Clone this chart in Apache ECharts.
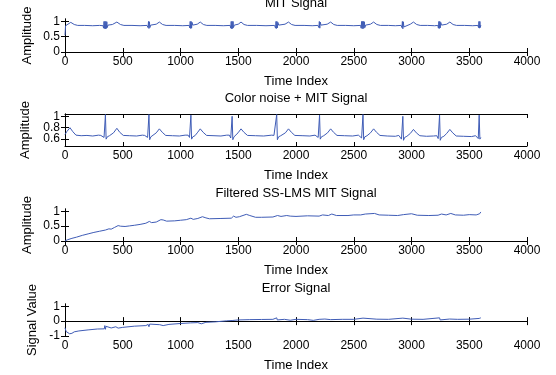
<!DOCTYPE html>
<html><head><meta charset="utf-8">
<script src="https://cdn.jsdelivr.net/npm/echarts@6/dist/echarts.min.js"></script>
<style>html,body{margin:0;padding:0;background:#fff}#c{width:556px;height:375px}</style>
</head><body><div id="c"></div>
<script>
const titles = ["MIT Signal", "Color noise + MIT Signal", "Filtered SS-LMS MIT Signal", "Error Signal"];
const yNames = ["Amplitude", "Amplitude", "Amplitude", "Signal Value"];
const xName = "Time Index";
const xTicks = [0, 500, 1000, 1500, 2000, 2500, 3000, 3500, 4000];
const yTicks1 = [0, 0.5, 1];
const yTicks2 = [0.6, 0.8, 1];
const yTicks3 = [0, 0.5, 1];
const yTicks4 = [-1, 0, 1];

const mitSignal = [[0,0.55],[5,0.86],[20,0.9],[50,0.97],[80,0.9],[110,0.87],[170,0.87],[240,0.86],[300,0.87],[330,0.86],
[334,0.78],[338,1.0],[342,0.77],[346,1.0],[350,0.76],[354,1.0],[358,0.77],[362,0.99],[366,0.8],[372,0.88],
[410,0.9],[449,0.98],[480,0.9],[510,0.87],[580,0.87],[650,0.86],[710,0.87],
[719,0.8],[723,1.0],[727,0.77],[731,0.99],[735,0.8],[742,0.88],
[790,0.91],[817,0.98],[845,0.9],[875,0.87],[950,0.87],[1020,0.86],[1075,0.87],
[1080,0.79],[1084,1.0],[1088,0.77],[1092,1.0],[1096,0.78],[1100,0.97],[1106,0.88],
[1145,0.91],[1171,0.98],[1198,0.9],[1228,0.87],[1300,0.87],[1370,0.86],[1430,0.87],
[1435,0.78],[1439,1.0],[1443,0.76],[1447,1.0],[1451,0.77],[1455,1.0],[1459,0.8],[1466,0.88],
[1500,0.91],[1524,0.98],[1550,0.9],[1580,0.87],[1660,0.87],[1740,0.86],[1815,0.87],
[1823,0.78],[1827,1.0],[1831,0.77],[1835,1.0],[1839,0.79],[1843,0.97],[1850,0.88],
[1905,0.91],[1935,0.98],[1962,0.9],[1992,0.87],[2070,0.87],[2140,0.86],[2190,0.87],
[2198,0.8],[2202,1.0],[2206,0.78],[2210,0.98],[2216,0.88],
[2270,0.91],[2300,0.98],[2327,0.9],[2357,0.87],[2430,0.87],[2500,0.86],[2560,0.87],
[2564,0.78],[2568,1.0],[2572,0.77],[2576,1.0],[2580,0.76],[2584,1.0],[2588,0.78],[2592,0.99],[2596,0.8],[2603,0.88],
[2645,0.91],[2672,0.98],[2700,0.9],[2730,0.87],[2800,0.87],[2860,0.86],[2910,0.87],
[2917,0.8],[2921,1.0],[2925,0.76],[2929,0.99],[2934,0.82],[2940,0.88],
[2990,0.91],[3017,0.98],[3045,0.9],[3075,0.87],[3140,0.87],[3200,0.86],[3228,0.87],
[3233,0.78],[3237,1.0],[3241,0.77],[3245,1.0],[3249,0.79],[3253,0.97],[3260,0.88],
[3305,0.91],[3332,0.98],[3360,0.9],[3390,0.87],[3460,0.87],[3530,0.86],[3575,0.87],
[3580,0.8],[3584,1.0],[3588,0.78],[3592,1.0],[3596,0.8],[3600,0.88]];

const noisySignal = [[0,0.68],[15,0.73],[43,0.8],[68,0.73],[95,0.67],[140,0.66],[190,0.665],[240,0.655],[290,0.67],[310,0.665],[325,0.67],[338,0.63],[350,1.03],[356,0.6],[366,0.64],[385,0.66],[420,0.71],[449,0.79],[474,0.72],[505,0.665],[560,0.66],[620,0.655],[670,0.67],[690,0.665],[703,0.67],[715,0.63],[727,1.03],[733,0.59],[743,0.64],[760,0.66],[790,0.71],[817,0.78],[842,0.72],[872,0.665],[930,0.66],[990,0.655],[1040,0.67],[1066,0.67],[1078,0.63],[1090,1.02],[1096,0.6],[1106,0.64],[1125,0.66],[1145,0.71],[1171,0.78],[1196,0.72],[1226,0.665],[1290,0.66],[1350,0.655],[1400,0.67],[1423,0.67],[1435,0.62],[1447,1.0],[1453,0.59],[1463,0.64],[1480,0.66],[1498,0.71],[1524,0.78],[1549,0.72],[1580,0.665],[1650,0.66],[1720,0.655],[1790,0.67],[1809,0.665],[1821,0.63],[1833,1.03],[1839,0.59],[1849,0.64],[1868,0.66],[1908,0.71],[1935,0.78],[1960,0.72],[1990,0.665],[2060,0.66],[2120,0.655],[2165,0.67],[2180,0.665],[2192,0.63],[2204,1.02],[2210,0.6],[2220,0.64],[2240,0.66],[2273,0.71],[2300,0.78],[2325,0.72],[2355,0.665],[2420,0.66],[2490,0.655],[2540,0.67],[2556,0.665],[2568,0.62],[2580,1.03],[2586,0.59],[2596,0.64],[2615,0.66],[2645,0.71],[2672,0.78],[2697,0.72],[2727,0.665],[2790,0.655],[2860,0.65],[2890,0.665],[2901,0.66],[2913,0.6],[2925,1.0],[2931,0.58],[2941,0.63],[2960,0.65],[2990,0.7],[3017,0.77],[3042,0.71],[3072,0.66],[3130,0.65],[3190,0.655],[3219,0.66],[3231,0.61],[3243,1.02],[3249,0.58],[3259,0.63],[3280,0.65],[3305,0.7],[3332,0.77],[3357,0.71],[3387,0.655],[3450,0.65],[3520,0.645],[3555,0.66],[3566,0.655],[3578,0.61],[3586,1.02],[3592,0.6],[3600,0.63]];

const filteredSignal = [[0,0],[20,0.04],[60,0.09],[100,0.13],[150,0.19],[200,0.24],[250,0.29],[300,0.33],[350,0.37],[380,0.41],[400,0.4],[430,0.46],[460,0.52],[480,0.5],[520,0.49],[560,0.51],[600,0.53],[650,0.56],[700,0.6],[730,0.66],[750,0.62],[790,0.64],[830,0.72],[850,0.71],[880,0.67],[950,0.68],[1000,0.7],[1050,0.72],[1090,0.77],[1110,0.73],[1150,0.76],[1190,0.82],[1220,0.78],[1250,0.75],[1350,0.76],[1440,0.77],[1460,0.84],[1480,0.8],[1510,0.82],[1570,0.9],[1600,0.86],[1650,0.8],[1700,0.8],[1800,0.81],[1840,0.86],[1870,0.83],[1920,0.86],[1950,0.84],[2000,0.83],[2100,0.85],[2200,0.84],[2230,0.88],[2280,0.86],[2310,0.91],[2350,0.86],[2450,0.86],[2500,0.88],[2560,0.88],[2600,0.91],[2680,0.93],[2720,0.88],[2800,0.87],[2880,0.86],[2930,0.89],[3000,0.92],[3050,0.87],[3150,0.86],[3230,0.87],[3260,0.91],[3300,0.88],[3340,0.93],[3380,0.88],[3450,0.87],[3500,0.89],[3560,0.88],[3590,0.92],[3600,0.98]];

const errorSignal = [[0,-0.45],[10,-0.7],[40,-0.85],[60,-0.82],[80,-0.72],[120,-0.66],[200,-0.59],[280,-0.53],[340,-0.52],[345,-0.3],[350,-0.55],[355,-0.35],[360,-0.48],[400,-0.46],[440,-0.38],[460,-0.47],[500,-0.42],[600,-0.34],[700,-0.3],[720,-0.22],[727,-0.38],[733,-0.2],[745,-0.28],[820,-0.24],[850,-0.3],[900,-0.22],[1000,-0.16],[1085,-0.12],[1090,0.0],[1095,-0.18],[1150,-0.1],[1180,-0.18],[1220,-0.08],[1300,-0.05],[1400,0.02],[1447,0.04],[1450,0.16],[1455,0.0],[1500,0.08],[1600,0.1],[1700,0.11],[1800,0.12],[1833,0.22],[1838,0.08],[1900,0.12],[1950,0.06],[2000,0.12],[2100,0.1],[2150,0.05],[2200,0.12],[2204,0.22],[2208,0.05],[2250,0.14],[2300,0.1],[2400,0.12],[2500,0.12],[2580,0.2],[2585,0.08],[2700,0.13],[2800,0.12],[2925,0.2],[2930,0.08],[3000,0.13],[3100,0.12],[3243,0.22],[3248,0.08],[3330,0.14],[3400,0.12],[3500,0.13],[3586,0.18],[3600,0.22]];

const FONT = "'Liberation Sans', Arial, sans-serif";
const LINE = '#3f5cb6';
const tops = [19, 114, 209, 304];
const heights = [33, 32, 32, 32];
const yRanges = [[0, 1.08], [0.48, 1.04], [0, 1.08], [-1, 1.15]];
const yTickSets = [yTicks1, yTicks2, yTicks3, yTicks4];
const yNameGaps = [31, 31, 31, 26];
const datasets = [mitSignal, noisySignal, filteredSignal, errorSignal];

const grids = [], xAxes = [], yAxes = [], series = [], titleOpts = [];
for (let i = 0; i < 4; i++) {
  grids.push({left: 65, width: 462, top: tops[i], height: heights[i], show: false});
  const axLine = {show: true, lineStyle: {color: '#000', width: 1}};
  const tick = {show: true, inside: true, length: 4, lineStyle: {color: '#000'}};
  xAxes.push({type: 'value', gridIndex: i, position: 'bottom', min: 0, max: 4000, interval: 500,
    axisLine: axLine, axisTick: Object.assign({customValues: xTicks}, tick), splitLine: {show: false},
    axisLabel: {color: '#000', fontFamily: FONT, fontSize: 12, margin: 4, customValues: xTicks,
      hideOverlap: false, formatter: v => String(v)},
    name: xName, nameLocation: 'middle', nameGap: 23,
    nameTextStyle: {color: '#000', fontFamily: FONT, fontSize: 13}});
  xAxes.push({type: 'value', gridIndex: i, position: 'top', min: 0, max: 4000, interval: 500,
    axisLine: axLine, axisTick: Object.assign({customValues: xTicks}, tick), splitLine: {show: false},
    axisLabel: {show: false}});
  const yt = yTickSets[i];
  const lblBase = {color: '#000', fontFamily: FONT, fontSize: 12, margin: 5,
      hideOverlap: false, formatter: v => String(v)};
  yAxes.push({type: 'value', gridIndex: i, position: 'left', min: yRanges[i][0], max: yRanges[i][1],
    axisLine: axLine, splitLine: {show: false},
    axisTick: Object.assign({customValues: yt}, tick),
    axisLabel: Object.assign({customValues: [yt[0], yt[2]]}, lblBase),
    name: yNames[i], nameLocation: 'middle', nameGap: yNameGaps[i], nameRotate: 90,
    nameTextStyle: {color: '#000', fontFamily: FONT, fontSize: 13}});
  yAxes.push({type: 'value', gridIndex: i, position: 'right', min: yRanges[i][0], max: yRanges[i][1],
    axisLine: axLine, splitLine: {show: false},
    axisTick: Object.assign({customValues: yt}, tick),
    axisLabel: {show: false}});
  yAxes.push({type: 'value', gridIndex: i, position: 'left', offset: 0, min: yRanges[i][0], max: yRanges[i][1],
    axisLine: {show: false}, axisTick: {show: false}, splitLine: {show: false},
    axisLabel: Object.assign({customValues: [yt[1]]}, lblBase)});
  series.push({type: 'line', xAxisIndex: 2 * i, yAxisIndex: 3 * i, data: datasets[i],
    showSymbol: false, symbol: 'none', lineStyle: {color: LINE, width: 1}, silent: true});
  titleOpts.push({text: titles[i], left: 296, top: tops[i] - 22, textAlign: 'center', padding: 0,
    textStyle: {color: '#000', fontFamily: FONT, fontSize: 13, fontWeight: 'normal'}});
}

const chart = echarts.init(document.getElementById('c'), null, {renderer: 'canvas'});
chart.setOption({animation: false, backgroundColor: '#fff', title: titleOpts,
  grid: grids, xAxis: xAxes, yAxis: yAxes, series: series});
</script></body></html>
